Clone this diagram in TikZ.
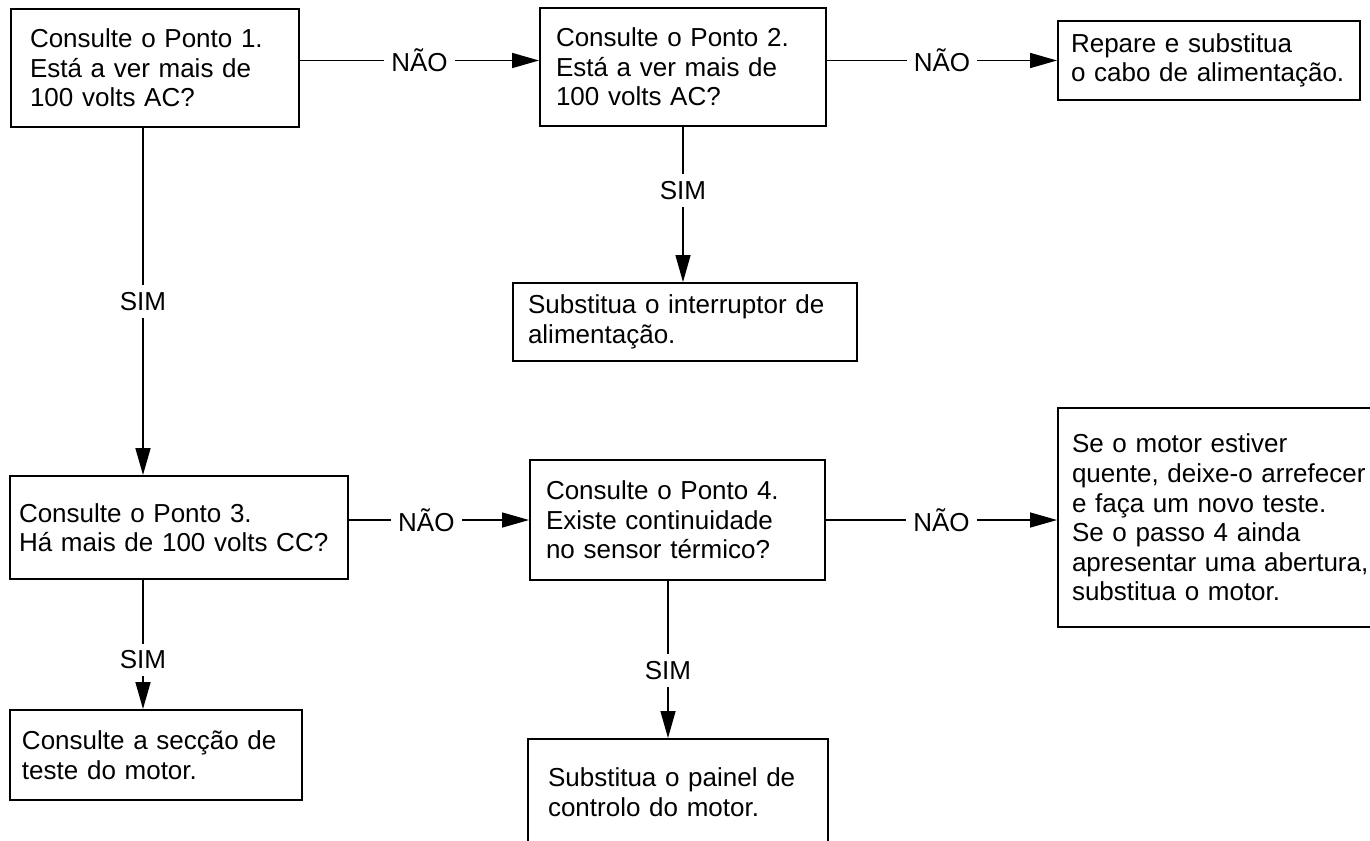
\documentclass[tikz,border=0pt]{standalone}
\usepackage{fontspec}
\setmainfont{Liberation Sans}
\usetikzlibrary{arrows.meta}

\begin{document}
\begin{tikzpicture}[>={Triangle[length=5.4mm, width=3mm]},
  every node/.style={font=\fontsize{14.8pt}{16.8pt}\selectfont},
  box/.style={draw, line width=1.1pt, align=left, inner ysep=0pt},
  flow/.style={->, line width=0.85pt},
  answer/.style={fill=white, inner sep=4pt}]
  \useasboundingbox (0,0) rectangle (27.4,-16.8);

  % boxes
  \node[box, minimum width=5.76cm, minimum height=2.36cm, text width=5.00cm, inner xsep=0.38cm] (ponto1) at (3.10,-1.36) {Consulte o Ponto 1.\\Está a ver mais de\\100 volts AC?};
  \node[box, minimum width=5.72cm, minimum height=2.36cm, text width=5.08cm, inner xsep=0.32cm] (ponto2) at (13.66,-1.34) {Consulte o Ponto 2.\\Está a ver mais de\\100 volts AC?};
  \node[box, minimum width=6.04cm, minimum height=1.58cm, text width=5.52cm, inner xsep=0.26cm] (cabo) at (24.18,-1.21) {Repare e substitua\\o cabo de alimentação.};
  \node[box, minimum width=6.88cm, minimum height=1.56cm, text width=6.28cm, inner xsep=0.30cm] (interruptor) at (13.70,-6.44) {Substitua o interruptor de\\alimentação.};
  \node[box, minimum width=6.76cm, minimum height=2.06cm, text width=6.40cm, inner xsep=0.18cm] (ponto3) at (3.58,-10.55) {Consulte o Ponto 3.\\Há mais de 100 volts CC?};
  \node[box, minimum width=5.90cm, minimum height=2.40cm, text width=5.26cm, inner xsep=0.32cm] (ponto4) at (13.55,-10.40) {Consulte o Ponto 4.\\Existe continuidade\\no sensor térmico?};
  \node[box, minimum width=6.52cm, minimum height=4.38cm, text width=5.96cm, inner xsep=0.28cm] (motor) at (24.42,-10.35) {Se o motor estiver\\quente, deixe-o arrefecer\\e faça um novo teste.\\Se o passo 4 ainda\\apresentar uma abertura,\\substitua o motor.};
  \node[box, minimum width=5.84cm, minimum height=1.80cm, text width=5.36cm, inner xsep=0.24cm] (teste) at (3.12,-15.10) {Consulte a secção de\\teste do motor.};
  \node[box, minimum width=6.00cm, minimum height=2.12cm, text width=5.20cm, inner xsep=0.40cm] (painel) at (13.56,-15.84) {Substitua o painel de\\controlo do motor.};

  \coordinate (left) at (2.86,0);
  \coordinate (mid) at (13.36,0);

  % connectors
  \draw[flow] (ponto1.east |- cabo.west) -- (ponto2.west |- cabo.west) node[answer, midway] {NÃO};
  \draw[flow] (ponto2.east |- cabo.west) -- (cabo.west) node[answer, midway] {NÃO};
  \draw[flow] (ponto2.south) -- (ponto2.south |- interruptor.north) node[answer, pos=0.41] {SIM};
  \draw[flow] (ponto1.south -| left) -- (ponto3.north -| left) node[answer, midway] {SIM};
  \draw[flow] (ponto3.east |- ponto4.west) -- (ponto4.west) node[answer, pos=0.43] {NÃO};
  \draw[flow] (ponto4.east) -- (ponto4.east -| motor.west) node[answer, midway] {NÃO};
  \draw[flow] (ponto3.south -| left) -- (teste.north -| left) node[answer, pos=0.62] {SIM};
  \draw[flow] (ponto4.south -| mid) -- (painel.north -| mid) node[answer, pos=0.57] {SIM};
\end{tikzpicture}
\end{document}
